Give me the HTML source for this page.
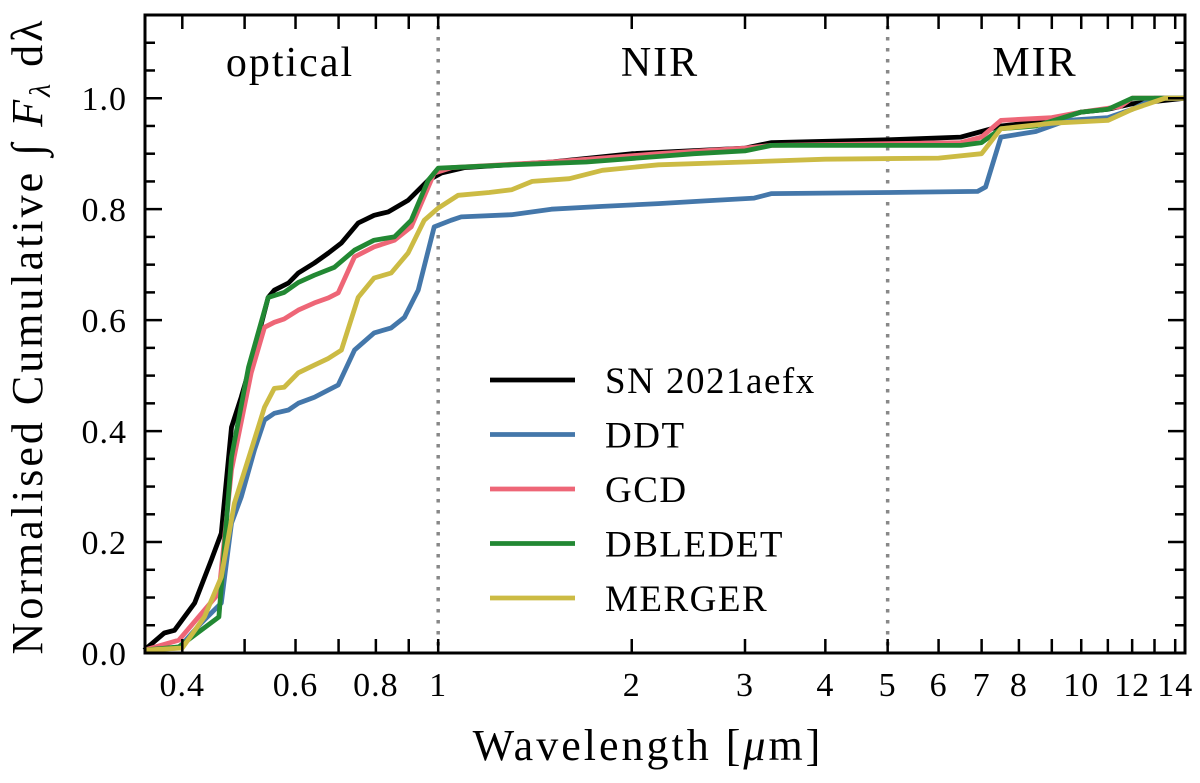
<!DOCTYPE html>
<html><head><meta charset="utf-8"><style>
body{margin:0;background:#fff}
svg text{font-family:"Liberation Serif","DejaVu Serif",serif;fill:#000}
</style></head><body>
<svg id="chart" width="1200" height="778" viewBox="0 0 1200 778" xmlns="http://www.w3.org/2000/svg">
<g id="marks"></g>
<g id="axes"></g>
<text x="290" y="76" font-size="42" letter-spacing="2" text-anchor="middle">optical</text>
<text x="660" y="76" font-size="42" letter-spacing="2" text-anchor="middle">NIR</text>
<text x="1035" y="76" font-size="42" letter-spacing="2" text-anchor="middle">MIR</text>
<text x="648" y="760" font-size="44" letter-spacing="3" text-anchor="middle">Wavelength [<tspan font-style="italic">μ</tspan>m]</text>
<text transform="translate(42,336) rotate(-90)" font-size="44" letter-spacing="3" text-anchor="middle">Normalised Cumulative ∫ <tspan font-style="italic">F</tspan><tspan font-size="30" dy="8" font-style="italic">λ</tspan><tspan dy="-8"> dλ</tspan></text>
<g id="legend"></g>
</svg>
<script>
const seriesNames=["SN 2021aefx","DDT","GCD","DBLEDET","MERGER"];
const seriesColors=["#000000","#4477aa","#ee6677","#228833","#ccbb44"];
const lamSN=[0.349,0.375,0.389,0.418,0.444,0.46,0.477,0.494,0.512,0.544,0.556,0.585,0.606,0.642,0.675,0.707,0.751,0.795,0.836,0.898,0.965,1.011,1.1,1.5,2,3,3.3,5,6.5,7,7.5,9,10,11,12,14.5];
const valSN=[0.005,0.036,0.041,0.09,0.168,0.216,0.407,0.461,0.523,0.641,0.654,0.667,0.685,0.703,0.721,0.739,0.775,0.789,0.795,0.816,0.852,0.865,0.875,0.885,0.9,0.91,0.92,0.925,0.93,0.94,0.95,0.96,0.975,0.98,0.99,1.0];
const lamDDT=[0.349,0.395,0.428,0.46,0.477,0.494,0.518,0.537,0.556,0.585,0.606,0.642,0.675,0.699,0.741,0.795,0.845,0.886,0.931,0.986,1.047,1.086,1.3,1.5,1.8,2.2,2.6,3.1,3.3,5,6.9,7.1,7.5,8.5,9.5,11,12,13,14.5];
const valDDT=[0.005,0.009,0.054,0.09,0.234,0.281,0.366,0.42,0.432,0.438,0.45,0.461,0.474,0.483,0.546,0.577,0.586,0.605,0.654,0.768,0.78,0.786,0.79,0.8,0.805,0.81,0.815,0.82,0.828,0.83,0.832,0.84,0.93,0.94,0.96,0.965,0.98,1.0,1.0];
const lamGCD=[0.349,0.395,0.456,0.477,0.512,0.537,0.556,0.576,0.606,0.642,0.675,0.699,0.741,0.795,0.855,0.908,0.986,1.05,1.5,2.2,3,3.3,6.5,7,7.5,9,10,11.5,12,14.5];
const valGCD=[0.005,0.023,0.108,0.33,0.505,0.587,0.596,0.602,0.618,0.631,0.64,0.649,0.714,0.732,0.744,0.768,0.865,0.875,0.885,0.9,0.91,0.915,0.92,0.93,0.96,0.965,0.975,0.985,1.0,1.0];
const lamDBL=[0.349,0.395,0.456,0.477,0.507,0.544,0.576,0.606,0.642,0.689,0.741,0.795,0.855,0.908,0.965,1.0,1.3,1.7,2.5,3,3.3,6.5,7,7.5,8.5,10,11,12,14.5];
const valDBL=[0.005,0.011,0.065,0.353,0.515,0.641,0.65,0.668,0.681,0.695,0.726,0.744,0.75,0.78,0.852,0.874,0.88,0.885,0.9,0.905,0.915,0.915,0.92,0.945,0.95,0.975,0.98,1.0,1.0];
const lamMRG=[0.349,0.4,0.433,0.46,0.482,0.512,0.537,0.556,0.576,0.606,0.642,0.675,0.707,0.751,0.795,0.845,0.898,0.951,1.0,1.074,1.2,1.3,1.4,1.6,1.8,2.2,3,4,6,7,7.5,9,11,12,13.5,14.5];
const valMRG=[0.005,0.009,0.065,0.137,0.27,0.366,0.443,0.477,0.479,0.505,0.519,0.531,0.546,0.641,0.676,0.685,0.721,0.78,0.802,0.825,0.83,0.835,0.85,0.855,0.87,0.88,0.885,0.89,0.892,0.9,0.945,0.955,0.96,0.98,1.0,1.0];
const lamAll=[lamSN,lamDDT,lamGCD,lamDBL,lamMRG];
const valAll=[valSN,valDDT,valGCD,valDBL,valMRG];
const xTickVals=[0.4,0.6,0.8,1,2,3,4,5,6,7,8,10,12,14];
const xTickLabels=["0.4","0.6","0.8","1","2","3","4","5","6","7","8","10","12","14"];
const xMinorVals=[0.5,0.7,0.9,9,11,13];
const yTickVals=[0,0.2,0.4,0.6,0.8,1.0];
const yTickLabels=["0.0","0.2","0.4","0.6","0.8","1.0"];
const regionBounds=[1,5];

const L=145,R=1185,T=15,B=653,XMIN=0.35,XMAX=14.5,YMIN=0,YMAX=1.15;
const X=v=>L+(Math.log10(v)-Math.log10(XMIN))/(Math.log10(XMAX)-Math.log10(XMIN))*(R-L);
const Y=v=>B-(v-YMIN)/(YMAX-YMIN)*(B-T);
const NS="http://www.w3.org/2000/svg";
function mk(tag,attrs,parent){const e=document.createElementNS(NS,tag);for(const k in attrs)e.setAttribute(k,attrs[k]);parent.appendChild(e);return e;}
const marks=document.getElementById('marks'),axes=document.getElementById('axes'),legend=document.getElementById('legend');
regionBounds.forEach(b=>{
  const l=mk('line',{x1:X(b),x2:X(b),y1:T,y2:B,stroke:'#888',"stroke-width":3.5,"stroke-dasharray":"3.5 7.5"},marks);
  
  
});
[0,1,2,3,4].forEach(i=>{
  const d=lamAll[i].map((l,j)=>(j?'L':'M')+X(l).toFixed(1)+','+Y(valAll[i][j]).toFixed(1)).join('');
  const p=mk('path',{d:d,fill:'none',stroke:seriesColors[i],"stroke-width":4.8,"stroke-linejoin":"round"},marks);
  
  
});
const frame=mk('rect',{x:L,y:T,width:R-L,height:B-T,fill:'none',stroke:'#000',"stroke-width":3},axes);


xTickVals.forEach((v,i)=>{
  const x=X(v);
  mk('line',{x1:x,x2:x,y1:B,y2:B-14,stroke:'#000',"stroke-width":2.5},axes);
  mk('line',{x1:x,x2:x,y1:T,y2:T+14,stroke:'#000',"stroke-width":2.5},axes);
  const t=mk('text',{x:x,y:B+43,"font-size":34,"letter-spacing":1,"text-anchor":"middle"},axes);
  t.textContent=xTickLabels[i];
  
  
});
xMinorVals.forEach(v=>{
  const x=X(v);
  mk('line',{x1:x,x2:x,y1:B,y2:B-14,stroke:'#000',"stroke-width":2.5},axes);
  mk('line',{x1:x,x2:x,y1:T,y2:T+14,stroke:'#000',"stroke-width":2.5},axes);
});
for(let v=0;v<=1.151;v+=0.05){
  const y=Y(v),maj=Math.abs(v/0.2-Math.round(v/0.2))<1e-6,len=maj?17:10;
  mk('line',{x1:L,x2:L+len,y1:y,y2:y,stroke:'#000',"stroke-width":2.5},axes);
  mk('line',{x1:R,x2:R-len,y1:y,y2:y,stroke:'#000',"stroke-width":2.5},axes);
}
yTickVals.forEach((v,i)=>{
  const t=mk('text',{x:127,y:Y(v)+12,"font-size":34,"letter-spacing":1,"text-anchor":"end"},axes);
  t.textContent=yTickLabels[i];
  
  
});
seriesNames.forEach((n,i)=>{
  const y=380+i*54.5;
  const l=mk('line',{x1:490,x2:575,y1:y,y2:y,stroke:seriesColors[i],"stroke-width":4.8},legend);
  
  
  const t=mk('text',{x:605,y:y+13,"font-size":37,"letter-spacing":1.5},legend);
  t.textContent=n;
  
  
});
</script>
</body></html>
